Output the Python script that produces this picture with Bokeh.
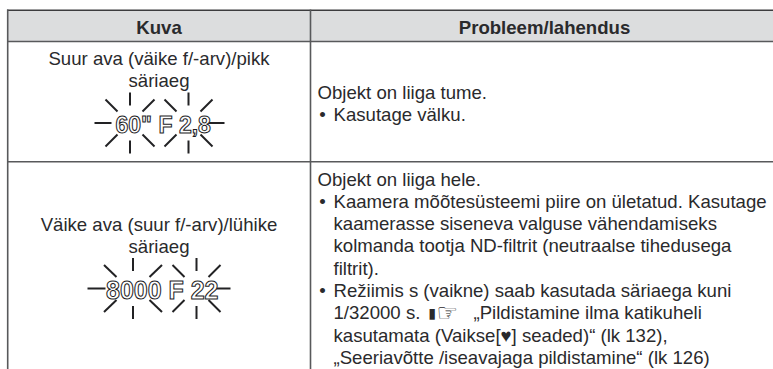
from bokeh.plotting import figure
from bokeh.models import Range1d
from bokeh.core.properties import value
from bokeh.embed import file_html
from bokeh.resources import INLINE

# ---- content ----
header_labels = ["Kuva", "Probleem/lahendus"]
left_lines_top = ["Suur ava (väike f/-arv)/pikk", "säriaeg"]
left_lines_bottom = ["Väike ava (suur f/-arv)/lühike", "säriaeg"]
right_intro_top = "Objekt on liiga tume."
right_bullet_top = "Kasutage välku."
right_intro_bottom = "Objekt on liiga hele."
right_lines_a = ["Kaamera mõõtesüsteemi piire on ületatud. Kasutage",
                 "kaamerasse siseneva valguse vähendamiseks",
                 "kolmanda tootja ND-filtrit (neutraalse tihedusega",
                 "filtrit)."]
right_line_b1 = "Režiimis s (vaikne) saab kasutada säriaega kuni"
right_line_b2a = "1/32000 s."
right_line_b2b = "„Pildistamine ilma katikuheli"
right_line_b3 = "kasutamata (Vaikse[♥] seaded)“ (lk 132),"
right_line_b4 = "„Seeriavõtte /iseavajaga pildistamine“ (lk 126)"
flash_top = ['60"', "F 2,8"]
flash_bottom = ["8000", "F 22"]

# ---- layout (page pixels) ----
FONT = "Liberation Sans"
INK = "#2a2a2c"
RULE = "#58595b"
SIZE = "18.6px"

p = figure(width=773, height=369, output_backend="svg", toolbar_location=None,
           x_range=Range1d(0, 773), y_range=Range1d(369, 0),
           x_axis_type=None, y_axis_type=None, min_border=0,
           outline_line_color=None)
p.grid.visible = False
p.background_fill_color = "white"
p.border_fill_color = "white"

# header band and rules
p.quad(left=[7], right=[773], top=[10], bottom=[41], fill_color="#dcddde", line_color=None)
p.segment([6.5], [9.7], [773], [9.7], line_color="#3c3c3e", line_width=1.5)
p.segment([6.5, 6.5], [41, 161.3], [773, 773], [41, 161.3], line_color=RULE, line_width=1.6)
p.segment([7.2, 310], [9, 9], [7.2, 310], [369, 369], line_color=RULE, line_width=1.6)


def put(x, y, s, align="left", weight="normal", font=FONT, size=SIZE):
    p.text([x], [y], text=[s], text_align=align, text_baseline="alphabetic",
           text_font=value(font), text_font_size=size, text_font_style=weight,
           text_color=INK)


put(158.5, 26.5, header_labels[0], "center", "bold")
put(544, 26.5, header_labels[1], "center", "bold")

put(158.5, 57.5, left_lines_top[0], "center")
put(158.5, 79.5, left_lines_top[1], "center")
put(158.5, 223.5, left_lines_bottom[0], "center")
put(158.5, 246, left_lines_bottom[1], "center")

put(317, 91.5, right_intro_top)
put(322, 113.5, "•", "center")
put(333, 113.5, right_bullet_top)

pitch = 22.3
y0 = 178.5
put(317, y0, right_intro_bottom)
put(322, y0 + pitch, "•", "center")
for i, s in enumerate(right_lines_a):
    put(333, y0 + (i + 1) * pitch, s)
put(322, y0 + 5 * pitch, "•", "center")
put(333, y0 + 5 * pitch, right_line_b1)
put(333, y0 + 6 * pitch, right_line_b2a)
put(428, y0 + 6 * pitch, "▮", font="DejaVu Sans", size="14px")
put(436, y0 + 6 * pitch, "☞", font="DejaVu Sans", size="24px")
put(473, y0 + 6 * pitch, right_line_b2b)
put(333, y0 + 7 * pitch, right_line_b3)
put(333, y0 + 8 * pitch, right_line_b4)


def burst(cx, cy, dxi, dxo, hx0, hx1):
    xs0, ys0, xs1, ys1 = [], [], [], []
    for sy in (-1, 1):
        xs0.append(cx); ys0.append(cy + sy * 17.5)
        xs1.append(cx); ys1.append(cy + sy * 30.5)
        for sx in (-1, 1):
            xs0.append(cx + sx * dxi); ys0.append(cy + sy * 11.5)
            xs1.append(cx + sx * dxo); ys1.append(cy + sy * 23.5)
    xs0.append(cx + hx0); xs1.append(cx + hx1)
    ys0.append(cy); ys1.append(cy)
    p.segment(xs0, ys0, xs1, ys1, line_color="#222224", line_width=2)


burst(129.5, 122.5, 12.5, 24.5, -18.5, -35.5)
burst(188, 122.5, 12, 24, 20, 36)
burst(132.5, 288, 16.5, 29, -27.5, -45.5)
burst(196, 288, 12, 24, 17, 34)


def outlined(x, y, s, size):
    p.text([x], [y], text=[s], text_align="left", text_baseline="alphabetic",
           text_font=value(FONT), text_font_size=size, text_font_style="bold",
           text_color="white", text_outline_color="#1c1c1e")


outlined(115, 124, flash_top[0], "23px")
outlined(158, 124, flash_top[1], "23px")
outlined(105.5, 289.5, flash_bottom[0], "25px")
outlined(168, 289.5, flash_bottom[1], "25px")

open("out.html", "w").write(file_html(p, INLINE))
